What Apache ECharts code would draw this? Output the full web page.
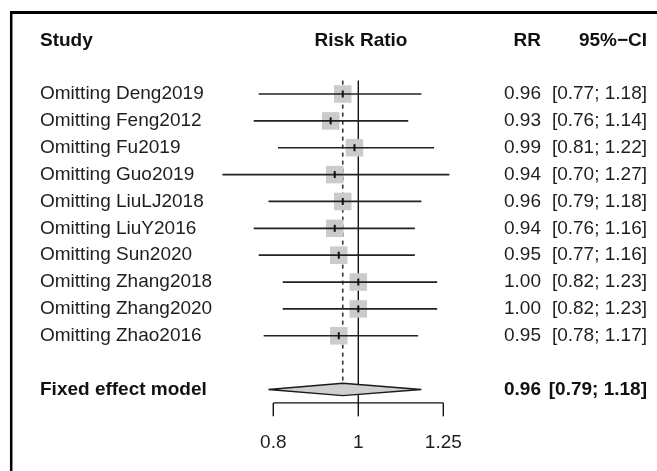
<!DOCTYPE html>
<html>
<head>
<meta charset="utf-8">
<script src="https://cdn.jsdelivr.net/npm/echarts@6/dist/echarts.min.js"></script>
<style>
	html, body { margin: 0; padding: 0; background: #fff; }
	#forest { width: 657px; height: 471px; }
</style>
<title>Leave-one-out forest plot</title>
</head>
<body>
<div id="forest"></div>
<script type="text/javascript">

// leave-one-out results
var studies = ['Omitting Deng2019', 'Omitting Feng2012', 'Omitting Fu2019', 'Omitting Guo2019',
	'Omitting LiuLJ2018', 'Omitting LiuY2016', 'Omitting Sun2020', 'Omitting Zhang2018',
	'Omitting Zhang2020', 'Omitting Zhao2016'];
var rr = [0.96, 0.93, 0.99, 0.94, 0.96, 0.94, 0.95, 1.00, 1.00, 0.95];
var ciLow = [0.77, 0.76, 0.81, 0.70, 0.79, 0.76, 0.77, 0.82, 0.82, 0.78];
var ciHigh = [1.18, 1.14, 1.22, 1.27, 1.18, 1.16, 1.16, 1.23, 1.23, 1.17];

// pooled estimate
var pooledLabel = 'Fixed effect model';
var pooledRR = 0.96;
var pooledLow = 0.79;
var pooledHigh = 1.18;

var axisTicks = [0.8, 1, 1.25];
var headers = ['Study', 'Risk Ratio', 'RR', '95%\u2212CI'];

var FONT = '"Liberation Sans", Arial, Helvetica, sans-serif';
var FS = 19;
var TEXT_COL = '#1e1e1e';
var COL_STUDY = 40, COL_HEAD_MID = 361, COL_RR = 541, COL_CI = 647;
var SQUARE = 17.5;
var FIRST_ROW = 2, POOLED_ROW = 13, AXIS_ROW = 13.5;

function fmt(v) { return v.toFixed(2); }
function ciText(lo, hi) { return '[' + fmt(lo) + '; ' + fmt(hi) + ']'; }

function txt(x, y, s, align, bold) {
	return {
		type: 'text', x: x, y: y,
		style: {
			text: s, fontSize: FS, fontFamily: FONT, fontWeight: bold ? 'bold' : 'normal',
			fill: bold ? '#111' : TEXT_COL, align: align, verticalAlign: 'middle'
		}
	};
}

var studyData = studies.map(function (s, i) { return [rr[i], FIRST_ROW + i]; });

var option = {
	animation: false,
	grid: { left: 200, width: 280, top: 13.44, height: 456.62 },
	xAxis: { type: 'log', logBase: 10, min: 0.66, max: 1.37634, show: false },
	yAxis: { type: 'value', inverse: true, min: -1, max: 16, show: false },
	graphic: [
		// frame (top and left edge only are visible)
		{ type: 'line', shape: { x1: 10, y1: 12.5, x2: 657, y2: 12.5 }, style: { stroke: '#000', lineWidth: 3 } },
		{ type: 'line', shape: { x1: 11.2, y1: 11, x2: 11.2, y2: 471 }, style: { stroke: '#000', lineWidth: 2.5 } }
	],
	series: [
		{
			// reference line at 1 and dashed line at pooled estimate
			type: 'custom',
			data: [[1, 0], [pooledRR, 1]],
			renderItem: function (params, api) {
				var v = api.value(0);
				var dashed = api.value(1) === 1;
				var a = api.coord([v, 1.5]);
				var b = api.coord([v, dashed ? POOLED_ROW - 0.23 : AXIS_ROW]);
				return {
					type: 'line',
					shape: { x1: a[0], y1: a[1], x2: b[0], y2: b[1] },
					style: dashed ? { stroke: '#333', lineWidth: 1.6, lineDash: [4, 4] }
						: { stroke: '#111', lineWidth: 1.4 }
				};
			}
		},
		{
			// studies: square, CI line, estimate tick, texts
			type: 'custom',
			data: studyData,
			renderItem: function (params, api) {
				var i = params.dataIndex;
				var row = api.value(1);
				var p = api.coord([rr[i], row]);
				var l = api.coord([ciLow[i], row]);
				var h = api.coord([ciHigh[i], row]);
				return {
					type: 'group', children: [
						{ type: 'rect', shape: { x: p[0] - SQUARE / 2, y: p[1] - SQUARE / 2, width: SQUARE, height: SQUARE },
							style: { fill: '#cbcbcb' } },
						{ type: 'line', shape: { x1: l[0], y1: p[1], x2: h[0], y2: p[1] },
							style: { stroke: '#222', lineWidth: 1.7 } },
						{ type: 'line', shape: { x1: p[0], y1: p[1] - 3.5, x2: p[0], y2: p[1] + 3.5 },
							style: { stroke: '#111', lineWidth: 2 } },
						txt(COL_STUDY, p[1], studies[i], 'left', false),
						txt(COL_RR, p[1], fmt(rr[i]), 'right', false),
						txt(COL_CI, p[1], ciText(ciLow[i], ciHigh[i]), 'right', false)
					]
				};
			}
		},
		{
			// pooled diamond
			type: 'custom',
			data: [[pooledRR, POOLED_ROW]],
			renderItem: function (params, api) {
				var row = api.value(1);
				var c = api.coord([pooledRR, row]);
				var t = api.coord([pooledRR, row - 0.23]);
				var b = api.coord([pooledRR, row + 0.23]);
				var l = api.coord([pooledLow, row]);
				var h = api.coord([pooledHigh, row]);
				return {
					type: 'group', children: [
						{ type: 'polygon', shape: { points: [[l[0], c[1]], [t[0], t[1]], [h[0], c[1]], [b[0], b[1]]] },
							style: { fill: '#cfcfcf', stroke: '#1a1a1a', lineWidth: 1.4 } },
						txt(COL_STUDY, c[1], pooledLabel, 'left', true),
						txt(COL_RR, c[1], fmt(pooledRR), 'right', true),
						txt(COL_CI, c[1], ciText(pooledLow, pooledHigh), 'right', true)
					]
				};
			}
		},
		{
			// x axis bracket with ticks and labels
			type: 'custom',
			data: axisTicks.map(function (t) { return [t, AXIS_ROW]; }),
			renderItem: function (params, api) {
				var v = api.value(0);
				var a = api.coord([v, AXIS_ROW]);
				var b = api.coord([v, AXIS_ROW + 0.5]);
				var lab = api.coord([v, 15]);
				var kids = [
					{ type: 'line', shape: { x1: a[0], y1: a[1], x2: b[0], y2: b[1] }, style: { stroke: '#111', lineWidth: 1.4 } },
					txt(lab[0], lab[1], String(v), 'center', false)
				];
				if (params.dataIndex === 0) {
					var e = api.coord([axisTicks[axisTicks.length - 1], AXIS_ROW]);
					kids.push({ type: 'line', shape: { x1: a[0], y1: a[1], x2: e[0], y2: e[1] }, style: { stroke: '#111', lineWidth: 1.4 } });
				}
				return { type: 'group', children: kids };
			}
		},
		{
			// header row
			type: 'custom',
			data: [[1, 0]],
			renderItem: function (params, api) {
				var y = api.coord([1, api.value(1)])[1];
				return {
					type: 'group', children: [
						txt(COL_STUDY, y, headers[0], 'left', true),
						txt(COL_HEAD_MID, y, headers[1], 'center', true),
						txt(COL_RR, y, headers[2], 'right', true),
						txt(COL_CI, y, headers[3], 'right', true)
					]
				};
			}
		}
	]
};

var chart = echarts.init(document.getElementById('forest'));
chart.setOption(option);
</script>
</body>
</html>
